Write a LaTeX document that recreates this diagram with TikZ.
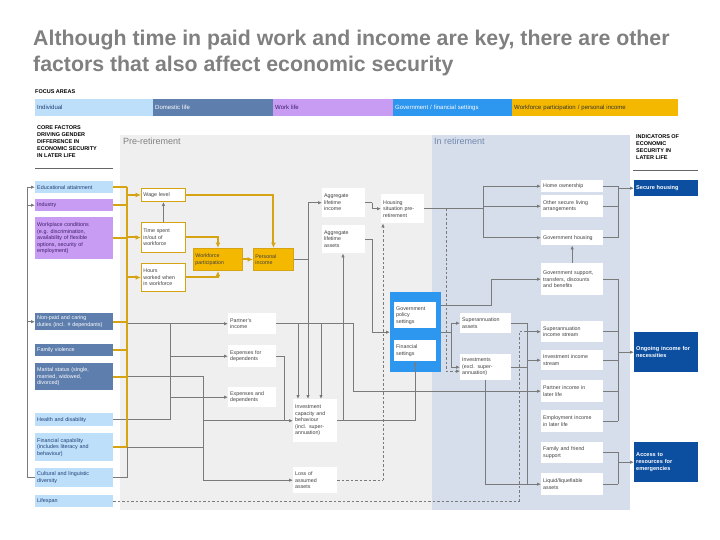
\documentclass[tikz,border=0pt]{standalone}
\usepackage{fontspec}
\setmainfont{Liberation Sans}
\usetikzlibrary{arrows.meta}
\definecolor{indc}{HTML}{BEDFF9}
\definecolor{domc}{HTML}{5E7EAD}
\definecolor{workc}{HTML}{C89CF2}
\definecolor{govc}{HTML}{2D96EE}
\definecolor{goldc}{HTML}{F5B800}
\definecolor{goldl}{HTML}{D6A312}
\definecolor{lnc}{HTML}{7A7A7A}
\definecolor{prec}{HTML}{EFEFEF}
\definecolor{retc}{HTML}{D5DEEA}
\definecolor{indic}{HTML}{0C4EA0}
\definecolor{titc}{HTML}{808080}
\definecolor{txtc}{HTML}{404040}
\definecolor{navyt}{HTML}{1F3F77}
\definecolor{purt}{HTML}{3D1F6B}
\definecolor{rethd}{HTML}{7388AE}
\newcommand\bxx[7]{%
  \pgfmathsetmacro\bxtw{#5-4}%
  \node[#2, minimum width=#5pt, minimum height=#6pt, text width=\bxtw pt] (#1) at (#3,#4) {#7};}
\begin{document}
\begin{tikzpicture}[x=1pt,y=-1pt,
  base/.style={anchor=north west, inner ysep=0pt, inner xsep=2pt, align=left, font=\fontsize{5.3}{6.5}\selectfont},
  wb/.style={base, fill=white, text=txtc},
  gb/.style={base, fill=white, draw=goldl, line width=0.9pt, text=txtc},
  gf/.style={base, fill=goldc, draw=goldl, line width=0.9pt, text=txtc},
  fi/.style={base, fill=indc, text=navyt, font=\fontsize{5.4}{6.5}\selectfont},
  fw/.style={base, fill=workc, text=purt, font=\fontsize{5.4}{6.5}\selectfont},
  fd/.style={base, fill=domc, text=white, font=\fontsize{5.4}{6.5}\selectfont},
  ic/.style={base, fill=indic, text=white, font=\fontsize{5.6}{6.8}\selectfont\bfseries},
  fb/.style={base, font=\fontsize{6}{7}\selectfont},
  gl/.style={draw=lnc, line width=0.75pt},
  ga/.style={gl, -{Latex[length=4pt,width=3.4pt]}},
  ol/.style={draw=goldl, line width=2pt},
  oa/.style={ol, -{Latex[length=5.5pt,width=5pt]}},
  dsh/.style={dash pattern=on 2.5pt off 2pt},
  hd/.style={anchor=north west, inner sep=0pt, align=left, font=\fontsize{5.5}{7.2}\selectfont\bfseries, text=black},
]
\useasboundingbox (0,0) rectangle (720,540);
\fill[white] (0,0) rectangle (720,540);
% title
\node[anchor=north west, inner sep=0pt, align=left, text=titc, font=\fontsize{21.3}{25.5}\selectfont\bfseries] (title) at (33,30)
  {Although time in paid work and income are key, there are other\\factors that also affect economic security};
% focus areas
\node[hd] (focus) at (35,89) {FOCUS AREAS};
\bxx{fbi}{fb, fill=indc, text=navyt}{35}{99}{118}{17}{Individual}
\bxx{fbd}{fb, fill=domc, text=white}{153}{99}{120}{17}{Domestic life}
\bxx{fbw}{fb, fill=workc, text=purt}{273}{99}{120}{17}{Work life}
\bxx{fbg}{fb, fill=govc, text=white}{393}{99}{119}{17}{Government / financial settings}
\bxx{fbf}{fb, fill=goldc, text=black!80}{512}{99}{166}{17}{Workforce participation / personal income}
% regions
\fill[prec] (120,135) rectangle (432,510);
\fill[retc] (432,135) rectangle (630,510);
\node[anchor=north west, inner sep=0pt, text=black!50, font=\fontsize{9}{10}\selectfont] (prehd) at (123,138) {Pre-retirement};
\node[anchor=north west, inner sep=0pt, text=rethd, font=\fontsize{9}{10}\selectfont] (rethd) at (434,138) {In retirement};
% left heading
\node[hd] (corehd) at (37,125) {CORE FACTORS\\DRIVING GENDER\\DIFFERENCE IN\\ECONOMIC SECURITY\\IN LATER LIFE};
\draw[black!60, line width=0.5pt] (35,168) -- (113,168);
\node[hd] (indhd) at (636,134) {INDICATORS OF\\ECONOMIC\\SECURITY IN\\LATER LIFE};
\draw[black!60, line width=0.5pt] (633,170) -- (698,170);
% left factor boxes
\bxx{edu}{fi}{35}{181}{78}{12}{Educational attainment}
\bxx{industry}{fw}{35}{199}{78}{12}{Industry}
\bxx{workplace}{fw}{35}{217}{78}{42}{Workplace conditions\\(e.g. discrimination,\\availability of flexible\\options, security of\\employment)}
\bxx{nonpaid}{fd}{35}{313}{78}{17}{Non-paid and caring\\duties (incl. \# dependants)}
\bxx{famviol}{fd}{35}{344}{78}{12}{Family violence}
\bxx{marital}{fd}{35}{363}{78}{27}{Marital status (single,\\married, widowed,\\divorced)}
\bxx{health}{fi}{35}{413}{78}{13}{Health and disability}
\bxx{fincap}{fi}{35}{433}{78}{28}{Financial capability\\(includes literacy and\\behaviour)}
\bxx{cultural}{fi}{35}{468}{78}{19}{Cultural and linguistic\\diversity}
\bxx{lifespan}{fi}{35}{495}{78}{12}{Lifespan}
% pre-retirement boxes
\bxx{wage}{gb}{141}{188}{44}{13}{Wage level}
\bxx{timespent}{gb}{141}{222}{44}{30}{Time spent\\in/out of\\workforce}
\bxx{hours}{gb}{141}{263}{44}{28}{Hours\\worked when\\in workforce}
\bxx{wfp}{gf}{193}{248}{49}{22}{Workforce\\participation}
\bxx{pinc}{gf}{253}{248}{40}{22}{Personal\\income}
\bxx{agginc}{wb}{322}{188}{43}{29}{Aggregate\\lifetime\\income}
\bxx{aggass}{wb}{322}{225}{43}{28}{Aggregate\\lifetime\\assets}
\bxx{housing}{wb}{381}{194}{43}{29}{Housing\\situation pre-\\retirement}
\bxx{partner}{wb}{228}{313}{48}{21}{Partner's\\income}
\bxx{expfor}{wb}{228}{345}{48}{22}{Expenses for\\dependents}
\bxx{expand}{wb}{228}{387}{48}{20}{Expenses and\\dependents}
\bxx{invcap}{wb}{293}{399}{44}{43}{Investment\\capacity and\\behaviour\\(incl. super-\\annuation)}
\bxx{loss}{wb}{293}{467}{44}{26}{Loss of\\assumed\\assets}
% government container
\node[anchor=north west, fill=govc, minimum width=51pt, minimum height=80pt, inner sep=0pt] (govbox) at (390,292) {};
\bxx{govpol}{wb}{394}{302}{42}{26}{Government\\policy\\settings}
\bxx{finset}{wb}{394}{340}{42}{21}{Financial\\settings}
\bxx{superass}{wb}{460}{313}{51}{20}{Superannuation\\assets}
\bxx{inv}{wb}{460}{354}{51}{26}{Investments\\(excl. super-\\annuation)}
% retirement column
\bxx{home}{wb}{541}{180}{62}{12}{Home ownership}
\bxx{othersec}{wb}{541}{195}{62}{22}{Other secure living\\arrangements}
\bxx{govhouse}{wb}{541}{230}{62}{15}{Government housing}
\bxx{govsup}{wb}{541}{263}{62}{32}{Government support,\\transfers, discounts\\and benefits}
\bxx{superinc}{wb}{541}{321}{62}{21}{Superannuation\\income stream}
\bxx{invinc}{wb}{541}{350}{62}{20}{Investment income\\stream}
\bxx{partlater}{wb}{541}{380}{62}{22}{Partner income in\\later life}
\bxx{empl}{wb}{541}{410}{62}{22}{Employment income\\in later life}
\bxx{family}{wb}{541}{442}{62}{21}{Family and friend\\support}
\bxx{liquid}{wb}{541}{473}{62}{22}{Liquid/liquefiable\\assets}
% indicators
\bxx{secure}{ic}{634}{180}{64}{16}{Secure housing}
\bxx{ongoing}{ic}{634}{332}{64}{40}{Ongoing income for\\necessities}
\bxx{access}{ic}{634}{442}{64}{40}{Access to\\resources for\\emergencies}
% helper x positions
\coordinate (x27) at (27,0);
\coordinate (tk) at (127,0);
\coordinate (x170) at (170,0);
\coordinate (x203) at (203,0);
\coordinate (x284) at (284,0);
\coordinate (x298) at (298,0);
\coordinate (x308) at (308,0);
\coordinate (x321) at (321,0);
\coordinate (x343) at (343,0);
\coordinate (x353) at (353,0);
\coordinate (x372) at (372,0);
\coordinate (x383) at (383,0);
\coordinate (x446) at (446,0);
\coordinate (x451) at (451,0);
\coordinate (x483) at (483,0);
\coordinate (x485) at (485,0);
\coordinate (x519) at (519,0);
\coordinate (x527) at (527,0);
\coordinate (x618) at (618,0);
% left gutter (cultural diversity)
\draw[gl] (cultural.west) -- (cultural.west -| x27) -- (edu.west -| x27);
\draw[ga] (edu.west -| x27) -- (edu.west);
\draw[ga] (industry.west -| x27) -- (industry.west);
\draw[ga] (nonpaid.west -| x27) -- (nonpaid.west);
% grey lines from factors
\draw[ga] (partner.west -| tk) -- (partner.west);
\draw[gl] (partner.west -| x170) -- (health.east -| x170);
\draw[gl] (health.east) -- (health.east -| x170);
\draw[ga] (expfor.west -| x170) -- (expfor.west);
\draw[ga] (expand.west -| x170) -- (expand.west);
\draw[gl] (marital.east -| tk) -- (marital.east -| x203) -- (loss.west -| x203);
\draw[ga] (loss.west -| x203) -- (loss.west);
\draw[gl] (fincap.east -| tk) -- (fincap.east -| x203);
\draw[gl] (cultural.east) -| (fincap.east -| tk);
\draw[gl] (invcap.west -| x203) -- (invcap.west -| x284);
% gold network
\draw[ol] (edu.east) -- (edu.east -| tk);
\draw[ol] (industry.east) -- (industry.east -| tk);
\draw[ol] (workplace.east) -- (workplace.east -| tk);
\draw[ol] (nonpaid.east) -- (nonpaid.east -| tk);
\draw[ol] (famviol.east) -- (famviol.east -| tk);
\draw[ol] (marital.east) -- (marital.east -| tk);
\draw[ol] (fincap.east) -- (fincap.east -| tk);
\draw[ol] (edu.east -| tk) -- (fincap.east -| tk);
\draw[oa] (wage.west -| tk) -- (wage.west);
\draw[oa] (timespent.west -| tk) -- (timespent.west);
\draw[oa] (hours.west -| tk) -- (hours.west);
\draw[oa] (wage.east) -| (pinc.north);
\draw[oa] (timespent.east) -| (wfp.north);
\draw[oa] (hours.east) -| (wfp.south);
\draw[oa] (wfp) -- (pinc);
\draw[ga] (timespent.north) -- (wage.south);
% pre-retirement grey network
\draw[gl] (pinc.east) -- (pinc.east -| x308);
\draw[ga] (agginc.west -| x308) -- (agginc.west);
\draw[ga] (agginc.west -| x308) -- (invcap.north -| x308);
\draw[ga] (partner.east) -- (partner.east -| x353) |- (partlater.west);
\draw[ga] (partner.east -| x298) -- (invcap.north -| x298);
\draw[ga] (partner.east -| x321) -- (invcap.north -| x321);
\draw[ga] (expfor.east) -- (expfor.east -| x284) |- (invcap.west);
\draw[ga] (invcap.east) -| (finset.south);
\draw[ga] (invcap.east -| x343) -- (aggass.south -| x343);
\draw[gl] (agginc.east) -- (agginc.east -| x372);
\draw[gl] (aggass.east) -- (aggass.east -| x372);
\draw[ga] (agginc.east -| x372) |- (housing.west);
\draw[ga] (aggass.east -| x372) |- (govbox.west);
\draw[gl, dsh] (loss.east) -- (loss.east -| x383);
\draw[ga, dsh] (loss.east -| x383) -- (housing.south -| x383);
% lifespan dashed
\draw[gl, dsh] (lifespan.east) -- (lifespan.east -| x519) -- (superinc.west -| x519) -- (superinc.west -| x527);
% retirement network
\draw[gl, line width=1.2pt] (housing.east) -- (housing.east -| x483);
\draw[gl] (home.west -| x483) -- (govhouse.west -| x483);
\draw[ga] (home.west -| x483) -- (home.west);
\draw[ga] (othersec.west -| x483) -- (othersec.west);
\draw[ga] (govhouse.west -| x483) -- (govhouse.west);
\draw[ga, dsh] (housing.east -| x446) |- ([yshift=-4pt]inv.west);
\draw[ga] ([yshift=-13pt]govbox.north east) -- ++(50,0) |- (govsup.west);
\draw[gl] (govbox.east) -- (govbox.east -| x451);
\draw[gl] (superass.west -| x451) -- (inv.west -| x451);
\draw[ga] (superass.west -| x451) -- (superass.west);
\draw[ga] (inv.west -| x451) -- (inv.west);
\draw[gl] (superass.east) -- (superass.east -| x527) -- (liquid.west -| x527);
\draw[gl] (inv.east) -- (inv.east -| x527);
\draw[gl] (inv.south -| x485) -- (liquid.west -| x485) -- (liquid.west -| x527);
\draw[ga] (superinc.west -| x527) -- (superinc.west);
\draw[ga] (invinc.west -| x527) -- (invinc.west);
\draw[ga] (liquid.west -| x527) -- (liquid.west);
\draw[ga] (govsup.north) -- (govhouse.south);
% to indicators
\draw[gl] (home.east) -- (home.east -| x618);
\draw[gl] (othersec.east) -- (othersec.east -| x618);
\draw[gl] (govhouse.east) -- (govhouse.east -| x618);
\draw[gl] (home.east -| x618) -- (govhouse.east -| x618);
\draw[ga] (secure.west -| x618) -- (secure.west);
\draw[gl] (govsup.east) -- (govsup.east -| x618) -- (empl.east -| x618);
\draw[gl] (superinc.east) -- (superinc.east -| x618);
\draw[gl] (invinc.east) -- (invinc.east -| x618);
\draw[gl] (partlater.east) -- (partlater.east -| x618);
\draw[gl] (empl.east) -- (empl.east -| x618);
\draw[ga] (ongoing.west -| x618) -- (ongoing.west);
\draw[gl] (family.east) -- (family.east -| x618) -- (liquid.east -| x618);
\draw[gl] (liquid.east) -- (liquid.east -| x618);
\draw[ga] (access.west -| x618) -- (access.west);
\end{tikzpicture}
\end{document}
